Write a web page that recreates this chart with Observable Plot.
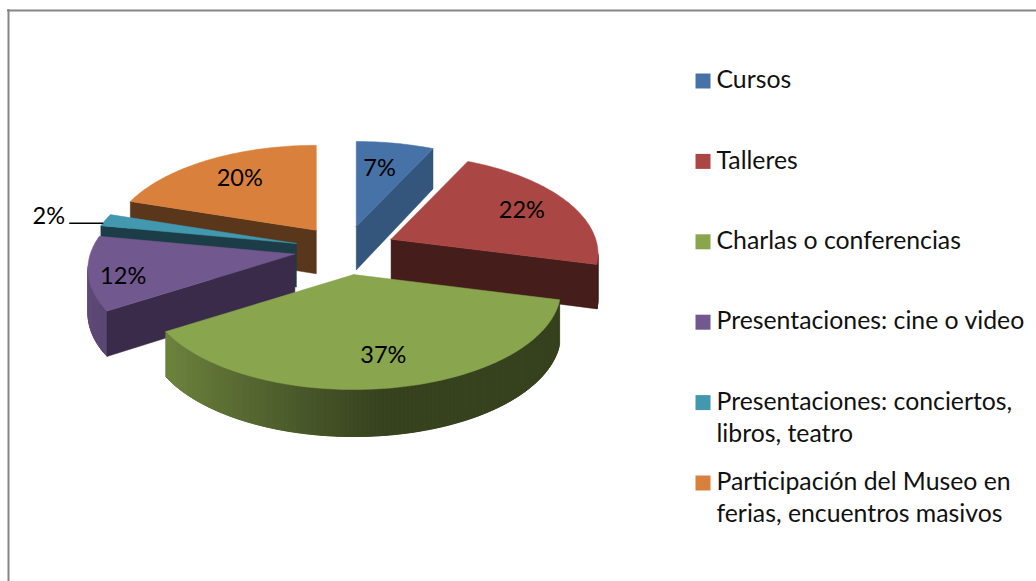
<!DOCTYPE html>
<html>
<head>
<meta charset="utf-8">
<style>html,body{margin:0;padding:0;background:#fff}svg{display:block}</style>
<script src="https://cdn.jsdelivr.net/npm/d3@7"></script>
<script src="https://cdn.jsdelivr.net/npm/@observablehq/plot@0.6"></script>
</head>
<body>
<div id="chart"></div>
<script>
const categories = ["Cursos","Talleres","Charlas o conferencias","Presentaciones: cine o video","Presentaciones: conciertos,\nlibros, teatro","Participación del Museo en\nferias, encuentros masivos"];
const values = [7,22,37,12,2,20];
const topColors = ["#4672a8","#aa4643","#89a54e","#71588f","#4198af","#d9813c"];
const cutColors = ["#34557c","#451d1a","#37421c","#3a2b4a","#1c3d47","#5a361a"];
const labelReach = [0.68,0.74,0.74,0.84,1.3,0.72];
const labelTurn = [-2,0,-1,-4,-1,1.5];

const depth=6.67, fx=1365, fy=652, cx=345, cy=249, explode=0.25;
const rad=a=>a*Math.PI/180;
const base0=(X,Y)=>{const s=1/(depth+Y);return [fx*X*s,-fy*Y*s];};
const total=d3.sum(values);
let acc=0;
const slices=values.map((v,i)=>{const a0=acc/total*360;acc+=v;const a1=acc/total*360;const mid=(a0+a1)/2;
  const off=base0(explode*Math.sin(rad(mid)),explode*Math.cos(rad(mid)));
  return {i,v,a0,a1,mid,dx:cx+off[0],dy:cy+off[1]};});
const place=(s,X,Y,z)=>{const p=base0(X,Y);return [s.dx+p[0],s.dy+p[1]+z*(43.5-3.5*Y)];};
const rim=(s,a,z=0,r=1)=>place(s,r*Math.sin(rad(a)),r*Math.cos(rad(a)),z);
const angles=(a0,a1,st)=>{const n=Math.max(1,Math.ceil((a1-a0)/st));return d3.range(n+1).map(k=>a0+(a1-a0)*k/n);};

const rows=[];let pid=0;
const poly=(pts,color)=>{pid++;[...pts,pts[0]].forEach(p=>rows.push({id:pid,x:p[0],y:p[1],color}));};
const wallShade=a=>0.85-0.45*Math.min(1,(Math.sin(rad(a))+0.95)/1.1);
for(const idx of [0,5,4,3,1,2]){
  const s=slices[idx];
  const base=d3.rgb(topColors[idx]);
  const as=angles(s.a0,s.a1,1);
  for(let k=as.length-2;k>=0;k--){
    const m=(as[k]+as[k+1])/2;
    if(Math.cos(rad(m))<-0.15){
      const f=wallShade(m);
      const end=as[Math.min(k+3,as.length-1)];
      poly([rim(s,as[k]),rim(s,end),rim(s,end,1),rim(s,as[k],1)],
        d3.rgb(base.r*f,base.g*f,base.b*f).formatHex());
    }
  }
  const apexT=place(s,0,0,0),apexB=place(s,0,0,1);
  if(Math.sin(rad(s.a0))<-0.01) poly([apexT,rim(s,s.a0),rim(s,s.a0,1),apexB],cutColors[idx]);
  if(Math.sin(rad(s.a1))>0.01) poly([apexT,rim(s,s.a1),rim(s,s.a1,1),apexB],cutColors[idx]);
  poly([apexT,...as.map(a=>rim(s,a))],topColors[idx]);
}
const labels=slices.map(s=>{const p=rim(s,s.mid+labelTurn[s.i],0,labelReach[s.i]);return {x:p[0],y:p[1],t:s.v+"%"};});
const thin=slices[4],edge=rim(thin,thin.a0+1.5,0,1.0);
const leader=[{x:labels[4].x+21,y:edge[1]},{x:edge[0],y:edge[1]}];
const legend=categories.map((c,i)=>({c,color:topColors[i],y:80.5+80.4*i}));

const plot=Plot.plot({
  width:1036,height:581,margin:0,
  x:{domain:[0,1036],range:[0,1036],axis:null},
  y:{domain:[0,581],range:[0,581],axis:null},
  color:{type:"identity"},
  style:{fontFamily:"Lato",background:"#fff",color:"#000"},
  marks:[
    Plot.ruleY([10],{x1:7,x2:1036,stroke:"#868686",strokeWidth:2}),
    Plot.ruleX([8],{y1:9,y2:581,stroke:"#868686",strokeWidth:2}),
    Plot.line(rows,{x:"x",y:"y",z:"id",fill:"color",stroke:"color",strokeWidth:0.5,curve:"linear"}),
    Plot.line(leader,{x:"x",y:"y",stroke:"#000",strokeWidth:1.5}),
    Plot.text(labels,{x:"x",y:"y",dy:1,text:"t",fontSize:23.5,fill:"#000"}),
    Plot.dot(legend,{x:702.5,y:"y",symbol:"square",r:8.46,fill:"color",stroke:null}),
    Plot.text(legend,{x:716,y:d=>d.y-15.5,text:"c",textAnchor:"start",lineAnchor:"top",fontSize:24.8,lineHeight:1.29,fill:"#111"})
  ]
});
document.getElementById("chart").appendChild(plot);
</script>
</body>
</html>
